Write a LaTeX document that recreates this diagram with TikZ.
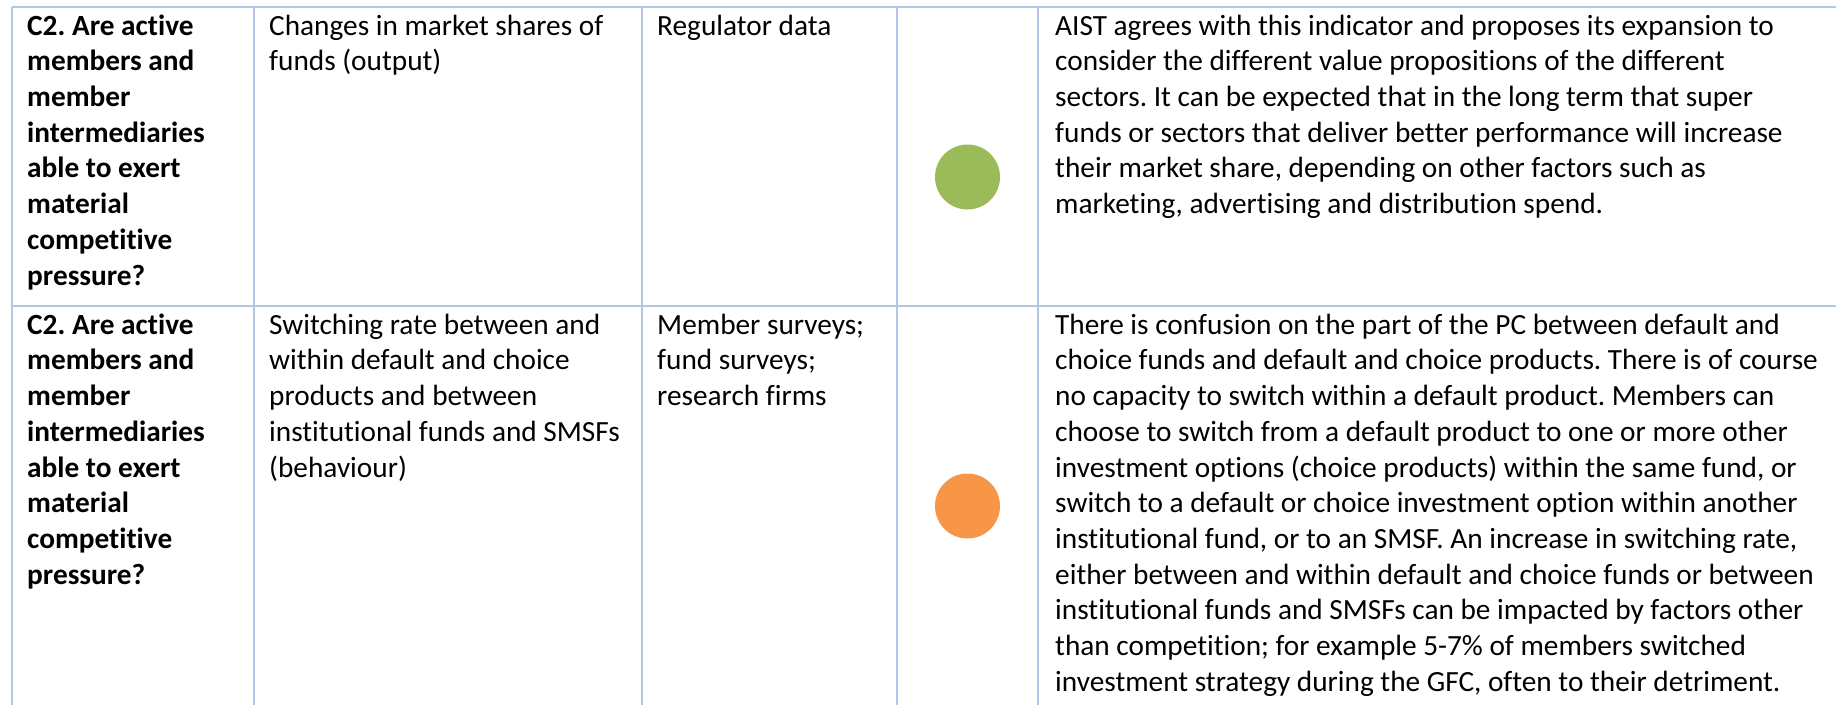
\documentclass[tikz,border=0pt]{standalone}
\usepackage{fontspec}
\setmainfont{Carlito}[Ligatures=NoCommon]
\frenchspacing
\definecolor{gridblue}{HTML}{B4C6E7}
\definecolor{dotgreen}{HTML}{9BBB59}
\definecolor{dotorange}{HTML}{F79646}
\newcommand{\cellfont}{\fontsize{29.3}{35.7}\selectfont}
\begin{document}
\begin{tikzpicture}[x=1pt,y=-1pt,
  grid/.style={draw=gridblue,line width=1.8pt},
  cell/.style={anchor=north west,inner sep=0pt,align=left,font=\cellfont\frenchspacing},
  bcell/.style={cell,font=\cellfont\frenchspacing\bfseries},
  dot/.style={circle,inner sep=0pt,minimum size=65pt}]
\useasboundingbox (0,0) rectangle (1836,705);
% grid
\draw[grid] (12,7) -- (1836,7);
\draw[grid] (12,306) -- (1836,306);
\foreach \x in {12,254,642,897,1038} \draw[grid] (\x,7) -- (\x,705);
% row 1 (first baseline at y=35; strut height 25)
\node[bcell] (r1c1) at (27,10) {\strut C2. Are active\\members and\\member\\intermediaries\\able to exert\\material\\competitive\\pressure?};
\node[cell] (r1c2) at (269,10) {\strut Changes in market shares of\\funds (output)};
\node[cell] (r1c3) at (657,10) {\strut Regulator data};
\node[dot,fill=dotgreen] (r1c4) at (967.5,177) {};
\node[cell] (r1c5) at (1055,10) {\strut AIST agrees with this indicator and proposes its expansion to\\consider the different value propositions of the different\\sectors. It can be expected that in the long term that super\\funds or sectors that deliver better performance will increase\\their market share, depending on other factors such as\\marketing, advertising and distribution spend.};
% row 2 (first baseline at y=334)
\node[bcell] (r2c1) at (27,309) {\strut C2. Are active\\members and\\member\\intermediaries\\able to exert\\material\\competitive\\pressure?};
\node[cell] (r2c2) at (269,309) {\strut Switching rate between and\\within default and choice\\products and between\\institutional funds and SMSFs\\(behaviour)};
\node[cell] (r2c3) at (657,309) {\strut Member surveys;\\fund surveys;\\research firms};
\node[dot,fill=dotorange] (r2c4) at (967.5,506) {};
\node[cell] (r2c5) at (1055,309) {\strut There is confusion on the part of the PC between default and\\choice funds and default and choice products. There is of course\\no capacity to switch within a default product. Members can\\choose to switch from a default product to one or more other\\investment options (choice products) within the same fund, or\\switch to a default or choice investment option within another\\institutional fund, or to an SMSF. An increase in switching rate,\\either between and within default and choice funds or between\\institutional funds and SMSFs can be impacted by factors other\\than competition; for example 5-7\% of members switched\\investment strategy during the GFC, often to their detriment.};
\end{tikzpicture}
\end{document}
